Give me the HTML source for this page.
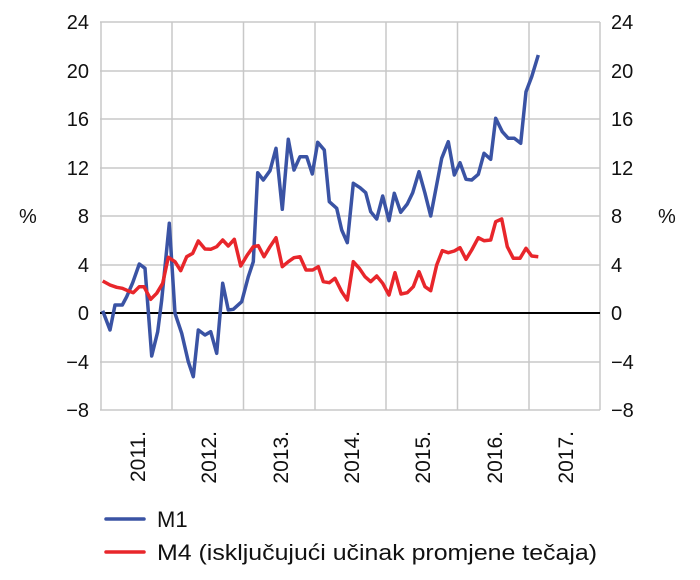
<!DOCTYPE html>
<html><head><meta charset="utf-8"><style>body{margin:0;background:#fff}svg{display:block}</style></head><body>
<svg width="700" height="580" xmlns="http://www.w3.org/2000/svg" font-family="Liberation Sans, sans-serif" font-size="20" fill="#111">
<g stroke="#c8c8c8" stroke-width="1.5" fill="none">
<line x1="100" y1="22" x2="600" y2="22"/><line x1="100" y1="71" x2="600" y2="71"/><line x1="100" y1="119" x2="600" y2="119"/><line x1="100" y1="168" x2="600" y2="168"/><line x1="100" y1="216" x2="600" y2="216"/><line x1="100" y1="265" x2="600" y2="265"/><line x1="100" y1="362" x2="600" y2="362"/><line x1="100" y1="410" x2="600" y2="410"/>
<line x1="101" y1="22" x2="101" y2="410"/><line x1="172" y1="22" x2="172" y2="410"/><line x1="243.5" y1="22" x2="243.5" y2="410"/><line x1="315" y1="22" x2="315" y2="410"/><line x1="386" y1="22" x2="386" y2="410"/><line x1="457.5" y1="22" x2="457.5" y2="410"/><line x1="529" y1="22" x2="529" y2="410"/><line x1="600" y1="22" x2="600" y2="410"/>
</g>
<line x1="100" y1="313" x2="600" y2="313" stroke="#000" stroke-width="2"/>
<g text-anchor="end"><text x="89" y="29">24</text><text x="89" y="78">20</text><text x="89" y="126">16</text><text x="89" y="175">12</text><text x="89" y="223">8</text><text x="89" y="272">4</text><text x="89" y="320">0</text><text x="89" y="369">−4</text><text x="89" y="417">−8</text></g>
<g><text x="611" y="29">24</text><text x="611" y="78">20</text><text x="611" y="126">16</text><text x="611" y="175">12</text><text x="611" y="223">8</text><text x="611" y="272">4</text><text x="611" y="320">0</text><text x="611" y="369">−4</text><text x="611" y="417">−8</text></g>
<text x="19" y="223">%</text><text x="658" y="223">%</text>
<g text-anchor="end" font-size="21"><text transform="translate(145,431) rotate(-90)">2011.</text><text transform="translate(216,431) rotate(-90)">2012.</text><text transform="translate(288,431) rotate(-90)">2013.</text><text transform="translate(359,431) rotate(-90)">2014.</text><text transform="translate(430,431) rotate(-90)">2015.</text><text transform="translate(502,431) rotate(-90)">2016.</text><text transform="translate(573,431) rotate(-90)">2017.</text></g>
<polyline fill="none" stroke="#3a53a4" stroke-width="3.5" stroke-linejoin="round" points="102.7,310.7 110,330 115,305 122.3,305 126.7,296.7 132.7,282.7 139.3,264 145,268.3 151.7,356 157.7,331.7 161.7,300 169.3,223.3 175,313.3 181.7,333.3 188.3,361.7 193.3,376.7 198.3,330 205,335 210.7,331.7 216.7,353.3 222.7,283.3 228.3,310 233.3,309.3 241.7,301.7 248.3,276.7 253.3,261.7 257.7,172.7 263.3,180 270,170.7 276,148.3 282.3,209.3 288.3,139.3 294,170 300,156.7 306.7,156.7 312.3,174 317.7,142.3 324.3,150 329.3,201.7 336.7,208.3 341.7,230 347.3,242.7 353.3,183.3 360,187.7 365.7,192.7 370.7,211.7 376.7,219 382.7,196 389,220.7 394.3,193.3 400.7,212.3 407.3,204 412.7,192.7 419,171.7 425,193.3 430.7,216 436,188.3 441.7,158.3 448.3,141.7 454.3,175 460,162.7 466,179.3 471.7,180 478.3,174.3 484,153.3 490.7,159.3 495.7,118.3 502.3,131.7 508.3,138.3 514.3,138.3 520.7,143.3 526,91.7 531.7,76.7 538.3,55"/>
<polyline fill="none" stroke="#e8262b" stroke-width="3.5" stroke-linejoin="round" points="102.7,281 110,285 116.7,287.3 122.3,288.3 127.7,290.7 133.3,292.7 139.3,286.7 144,286.7 150.7,299.3 156.7,293.3 162.7,283.3 168.3,257.3 175,261.7 180.7,270.7 186.7,256.7 192.7,253.3 198.3,241 205,249 210.7,249.3 216.7,246.7 222.7,240 228.3,246 234.3,239.3 240.7,266 247.3,255 253.3,246.7 258.3,245.7 264,256.7 270,246.7 276,237.7 282.3,266.7 288.3,261.7 294,257.7 300,256.7 306,270 312.7,270 318.3,266.7 323.3,281.7 329.3,282.7 335,278.3 341.7,291.7 347.3,300 353.3,261.7 359.3,268.3 365,276.7 370.7,281.7 376.7,276 382.7,283.3 389,295 395,272.7 401,294 407.3,292.7 413.3,286.7 419,271.7 425,286.7 430.7,290.7 436.7,265 442.3,250.7 448.3,252.7 454.3,251 460,247.7 466,259.3 471.7,250 478.3,237.7 484,240.7 490.7,240 495.7,221.7 501.7,219 507.3,246.7 513.3,258.3 520,258.3 526,248.3 531.7,256 538.3,256.7"/>
<line x1="106" y1="519" x2="144" y2="519" stroke="#3a53a4" stroke-width="3.5" stroke-linecap="round"/>
<line x1="106" y1="552" x2="144" y2="552" stroke="#e8262b" stroke-width="3.5" stroke-linecap="round"/>
<text x="157" y="527" font-size="22">M1</text>
<text x="157" y="560" font-size="22" textLength="440" lengthAdjust="spacingAndGlyphs">M4 (isključujući učinak promjene tečaja)</text>
</svg>
</body></html>
